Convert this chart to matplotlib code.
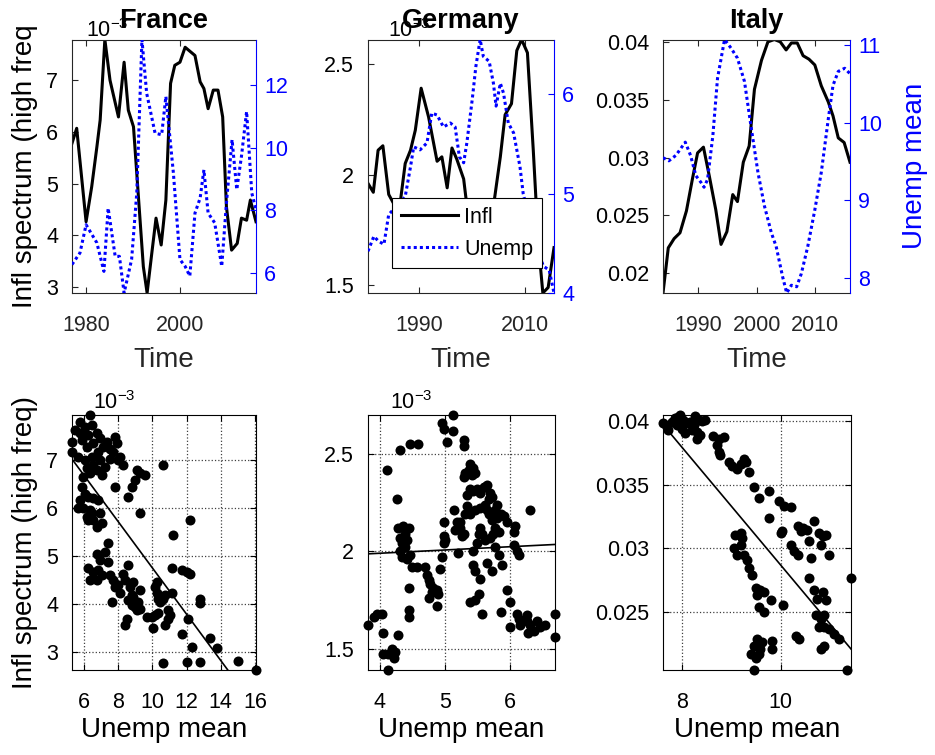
import matplotlib.pyplot as plt
import numpy as np

plt.rcParams['font.family'] = 'Liberation Sans'
plt.rcParams['mathtext.fontset'] = 'custom'
plt.rcParams['mathtext.rm'] = 'Liberation Sans'
plt.rcParams['mathtext.it'] = 'Liberation Sans:italic'
plt.rcParams['xtick.direction'] = 'in'
plt.rcParams['ytick.direction'] = 'in'
plt.rcParams['xtick.major.pad'] = 16
plt.rcParams['ytick.major.pad'] = 10
plt.rcParams['xtick.major.size'] = 4
plt.rcParams['ytick.major.size'] = 4

countries = ['France', 'Germany', 'Italy']

## TIME SERIES (inflation spectrum for France/Germany in units of 1e-3)
fr_t_infl = [1977.0, 1978.0, 1980.0, 1981.2, 1982.3, 1983.0, 1984.0, 1985.1, 1986.9, 1988.1,
             1989.0, 1990.1, 1991.1, 1992.2, 1993.0, 1994.0, 1994.9, 1996.0, 1997.0, 1998.0,
             1998.9, 2000.0, 2001.1, 2003.2, 2004.3, 2005.1, 2006.0, 2007.1, 2008.1, 2009.1,
             2009.9, 2011.0, 2012.2, 2013.1, 2014.2, 2015.0, 2016.2]
fr_infl = [5.78, 6.07, 4.26, 4.94, 5.71, 6.23, 7.79, 7.00, 6.29, 7.35,
           6.42, 6.10, 4.81, 3.39, 2.88, 3.65, 4.33, 3.81, 4.68, 6.94,
           7.29, 7.35, 7.64, 7.48, 6.97, 6.84, 6.45, 6.81, 6.81, 6.29,
           4.55, 3.71, 3.84, 4.33, 4.29, 4.68, 4.26]
fr_t_unemp = [1977.0, 1978.7, 1980.0, 1982.3, 1983.8, 1984.7, 1986.2, 1987.1, 1988.1, 1989.7,
              1990.8, 1991.9, 1992.9, 1994.7, 1996.1, 1997.0, 1998.6, 2000.0, 2001.1, 2002.1,
              2003.2, 2004.3, 2005.1, 2006.0, 2007.4, 2008.9, 2009.9, 2011.1, 2012.1, 2013.1,
              2014.2, 2015.3, 2016.2]
fr_unemp = [6.27, 6.64, 7.54, 6.96, 6.05, 8.07, 6.53, 6.53, 5.36, 6.43,
            8.55, 13.45, 11.74, 10.46, 10.41, 11.63, 9.19, 6.43, 6.21, 5.90,
            7.91, 8.39, 9.29, 7.91, 7.60, 6.21, 8.23, 10.25, 8.66, 9.72,
            11.15, 8.55, 8.02]

de_t_infl = [1980.4, 1981.4, 1982.3, 1983.2, 1984.3, 1985.2, 1985.8, 1986.5, 1987.4, 1988.4,
             1989.3, 1990.4, 1991.8, 1993.4, 1994.3, 1995.3, 1996.2, 1997.1, 1998.4, 1998.8,
             2000.0, 2001.5, 2003.0, 2004.2, 2005.3, 2006.2, 2007.4, 2008.4, 2009.3, 2010.4,
             2011.5, 2012.0, 2012.6, 2013.3, 2014.3, 2015.4]
de_infl = [1.96, 1.92, 2.11, 2.13, 1.91, 1.87, 1.78, 1.88, 2.05, 2.11,
           2.20, 2.39, 2.26, 2.06, 2.08, 1.94, 2.12, 2.07, 1.98, 1.90,
           1.70, 1.58, 1.65, 1.89, 2.08, 2.27, 2.32, 2.56, 2.61, 2.55,
           2.11, 1.89, 1.65, 1.465, 1.49, 1.67]
de_t_unemp = [1980.4, 1981.5, 1982.4, 1983.4, 1984.3, 1985.2, 1986.3, 1987.4, 1988.4, 1989.0,
              1990.2, 1991.5, 1992.4, 1993.4, 1994.6, 1995.9, 1996.8, 1997.6, 1998.4, 1999.0,
              2000.0, 2000.7, 2001.5, 2002.1, 2003.2, 2004.0, 2004.5, 2005.3, 2005.9, 2006.8,
              2007.8, 2009.0, 2009.6, 2011.0, 2012.2, 2013.4, 2014.5, 2015.4]
de_unemp = [4.42, 4.57, 4.52, 4.49, 4.79, 4.84, 4.90, 4.97, 5.27, 5.47,
            5.44, 5.51, 5.81, 5.79, 5.67, 5.71, 5.67, 5.37, 5.31, 5.51,
            5.94, 6.28, 6.55, 6.38, 6.33, 6.11, 5.88, 6.11, 6.01, 5.71,
            5.61, 5.27, 5.00, 4.70, 4.45, 4.27, 4.23, 4.00]

it_t_infl = [1984.0, 1984.9, 1985.9, 1986.9, 1988.0, 1989.0, 1989.9, 1990.9, 1991.9, 1993.0,
             1993.9, 1994.9, 1995.9, 1996.7, 1997.7, 1998.7, 1999.6, 2000.8, 2001.9, 2003.0,
             2004.0, 2005.0, 2005.9, 2006.9, 2007.9, 2008.9, 2009.9, 2011.0, 2012.2, 2013.0,
             2013.9, 2014.9, 2015.9]
it_infl = [0.0183, 0.0222, 0.0230, 0.0235, 0.0254, 0.0281, 0.0304, 0.0309, 0.0284, 0.0255,
           0.0225, 0.0236, 0.0268, 0.0262, 0.0296, 0.0310, 0.0359, 0.0384, 0.0400, 0.0402,
           0.0400, 0.0393, 0.0399, 0.0399, 0.0388, 0.0385, 0.0380, 0.0362, 0.0348, 0.0336,
           0.0317, 0.0313, 0.0296]
it_t_unemp = [1984.0, 1985.0, 1986.2, 1987.8, 1988.7, 1989.6, 1990.5, 1991.0, 1991.6, 1992.5,
              1993.3, 1994.5, 1995.6, 1996.7, 1997.9, 1999.0, 2000.2, 2001.3, 2002.5, 2003.3,
              2004.4, 2005.1, 2005.9, 2006.8, 2007.6, 2008.7, 2009.9, 2011.0, 2012.2, 2013.0,
              2013.9, 2015.0, 2015.9]
it_unemp = [9.55, 9.51, 9.58, 9.75, 9.58, 9.32, 9.23, 9.17, 9.27, 9.83,
            10.57, 11.07, 10.96, 10.83, 10.53, 9.96, 9.36, 8.93, 8.58, 8.41,
            8.02, 7.81, 7.91, 7.89, 8.06, 8.41, 8.88, 9.36, 10.05, 10.48,
            10.66, 10.70, 10.63]

## SCATTER: unemp mean vs infl spectrum
fr_sc_unemp = [6.35, 5.77, 6.06, 5.47, 6.25, 5.86, 5.30, 6.55, 6.94, 6.74, 6.45, 5.77, 6.16, 5.30,
               5.67, 6.06, 6.45, 6.84, 7.13, 7.33, 7.52, 6.94, 6.55, 6.16, 5.96, 6.35, 6.74, 7.03,
               7.23, 7.52, 7.81, 7.91, 7.72, 8.01, 8.11, 8.30, 7.81, 8.59, 8.79, 8.98, 9.08, 9.27,
               9.57, 9.27, 10.64, 5.86, 6.06, 5.77, 6.25, 6.55, 6.84, 5.96, 6.35, 5.67, 6.16, 6.55,
               6.74, 6.94, 7.03, 6.25, 6.45, 7.42, 7.23, 6.74, 7.42, 6.94, 6.25, 6.55, 6.84, 7.03,
               6.35, 6.74, 7.52, 7.72, 7.81, 8.01, 8.11, 7.62, 8.30, 8.59, 8.40, 8.69, 8.88, 8.79,
               8.59, 8.79, 8.98, 9.18, 9.27, 9.08, 8.50, 8.40, 8.88, 9.27, 9.66, 9.96, 10.15, 10.35,
               10.05, 10.25, 10.15, 10.25, 10.35, 10.44, 10.64, 10.74, 10.93, 10.93, 11.03, 10.74,
               10.64, 11.22, 11.13, 11.13, 11.71, 12.00, 12.20, 12.20, 11.71, 12.10, 12.00, 12.30,
               12.78, 12.78, 12.78, 13.37, 13.76, 15.03, 16.06]
fr_sc_infl = [7.94, 7.80, 7.70, 7.63, 7.52, 7.42, 7.38, 7.35, 7.45, 7.56, 7.73, 7.56, 7.28, 7.17,
              7.07, 7.00, 7.07, 7.17, 7.28, 7.38, 7.24, 7.00, 6.90, 6.83, 6.65, 6.72, 6.79, 6.69,
              6.86, 7.03, 7.49, 7.35, 7.17, 7.00, 7.07, 6.90, 6.44, 6.23, 6.44, 6.58, 6.79, 6.72,
              6.69, 5.89, 6.90, 6.44, 6.30, 6.16, 6.23, 6.20, 6.16, 5.99, 5.96, 5.99, 5.82, 5.75,
              5.61, 5.89, 5.68, 5.75, 5.89, 5.26, 5.09, 5.05, 4.88, 4.91, 4.74, 4.67, 4.70, 4.60,
              4.49, 4.49, 4.60, 4.49, 4.36, 4.39, 4.22, 4.04, 4.63, 4.81, 4.49, 4.36, 4.46, 4.18,
              4.08, 3.97, 3.94, 4.04, 3.90, 3.87, 3.69, 3.56, 4.15, 4.29, 3.73, 3.73, 3.76, 3.80,
              3.49, 4.22, 4.36, 4.46, 4.11, 4.04, 4.11, 4.18, 3.87, 3.69, 3.76, 3.56,
              2.76, 5.43, 4.74, 4.22, 4.70, 4.67, 4.63, 5.75, 3.38, 3.69, 2.79, 3.10,
              2.79, 4.11, 4.01, 3.28, 3.07, 2.81, 2.62]

de_sc_unemp = [5.13, 4.95, 4.99, 5.13, 5.04, 5.29, 5.29, 4.59, 4.46, 4.31, 4.11, 4.26, 4.28, 4.36,
               4.44, 4.39, 4.41, 4.31, 4.34, 4.39, 4.31, 4.34, 4.41, 4.46, 4.49, 4.57, 4.70, 4.72,
               4.75, 4.77, 4.82, 4.88, 4.80, 4.90, 4.75, 4.88, 4.93, 4.95, 4.98, 4.99, 5.01, 4.98,
               5.14, 5.16, 5.19, 5.24, 5.26, 5.21, 5.29, 5.31, 5.34, 5.39, 5.47, 5.55, 5.34, 5.39,
               5.44, 5.49, 5.55, 5.29, 5.31, 5.37, 5.39, 5.44, 5.42, 5.47, 5.60, 5.62, 5.65, 5.70,
               5.73, 5.68, 5.62, 5.65, 5.68, 5.73, 5.75, 5.78, 5.80, 5.86, 5.91, 5.96, 5.78, 5.83,
               5.75, 5.70, 5.62, 5.57, 5.55, 5.52, 5.49, 5.44, 5.44, 5.47, 5.55, 5.65, 5.73, 5.78,
               5.83, 5.88, 5.86, 5.57, 5.39, 5.52, 5.47, 6.06, 6.11, 6.14, 6.06, 6.09, 5.96, 6.01,
               6.01, 6.11, 6.14, 6.16, 6.27, 6.32, 6.42, 6.47, 6.55, 6.70, 6.70, 6.27, 6.29, 6.37,
               6.32, 3.815, 3.90, 3.95, 4.03, 4.05, 4.04, 4.13, 4.18, 4.23, 4.28, 4.13, 4.21, 4.44,
               4.44, 4.44, 5.80, 5.24]
de_sc_infl = [2.70, 2.66, 2.63, 2.62, 2.56, 2.57, 2.54, 2.55, 2.55, 2.52, 2.42, 2.27, 2.12, 2.13,
              2.12, 2.09, 2.06, 2.07, 2.04, 2.02, 2.00, 1.97, 1.96, 1.98, 1.92, 1.92, 1.92, 1.88,
              1.85, 1.83, 1.81, 1.80, 1.79, 1.78, 1.76, 1.72, 1.91, 1.97, 2.15, 2.08, 2.06, 2.04,
              2.21, 2.11, 2.15, 2.12, 2.08, 1.99, 2.09, 2.19, 2.23, 2.19, 2.21, 2.22, 2.29, 2.32,
              2.31, 2.32, 2.30, 2.38, 2.40, 2.42, 2.45, 2.43, 2.39, 2.40, 2.33, 2.33, 2.34, 2.30,
              2.28, 2.27, 2.24, 2.21, 2.19, 2.16, 2.18, 2.21, 2.24, 2.19, 2.18, 2.15, 2.12, 2.10,
              2.09, 2.07, 2.06, 2.09, 2.12, 2.09, 2.04, 2.00, 1.93, 1.90, 1.86, 1.94, 1.90, 2.02,
              1.98, 1.93, 1.69, 1.68, 1.74, 1.78, 1.75, 2.03, 2.00, 1.98, 2.10, 2.13, 1.80, 1.61,
              1.74, 1.68, 1.65, 1.62, 1.64, 1.62, 1.64, 1.61, 1.62, 1.68, 1.56, 1.67, 1.58, 1.59,
              2.21, 1.62, 1.66, 1.68, 1.68, 1.58, 1.47, 1.47, 1.50, 1.48, 1.57, 1.39, 1.45, 1.81,
              1.70, 1.66, 2.17, 2.15]

it_sc_unemp = [7.62, 7.70, 7.73, 7.80, 7.86, 7.93, 7.97, 7.90, 8.00, 8.07, 8.10, 8.03, 8.17, 8.27,
               8.24, 8.34, 8.41, 8.47, 8.30, 8.37, 8.30, 8.20, 8.64, 8.75, 8.85, 8.71, 8.75, 8.78,
               8.95, 9.02, 9.12, 9.19, 9.25, 9.29, 9.36, 9.46, 9.56, 9.76, 9.76, 9.96, 10.07, 10.20,
               10.03, 10.00, 10.34, 10.44, 10.54, 10.68, 10.78, 10.85, 10.81, 10.91, 10.98, 10.20,
               10.27, 10.34, 10.57, 10.61, 9.08, 9.19, 9.22, 9.05, 9.12, 9.19, 9.25, 9.32, 9.36,
               9.42, 9.49, 9.52, 9.59, 9.66, 9.56, 9.66, 9.80, 10.05, 9.39, 9.46, 9.52, 9.59, 9.56,
               9.49, 9.63, 9.83, 9.83, 10.30, 10.37, 10.57, 10.68, 10.74, 10.85, 10.91, 10.71,
               10.81, 10.88, 10.78, 10.88, 10.98, 11.08, 11.18, 10.81, 10.88, 9.46, 11.33, 11.42,
               10.41]
it_sc_infl = [0.03984, 0.03952, 0.03926, 0.03992, 0.04018, 0.04032, 0.04045, 0.03966, 0.03939,
              0.03900, 0.03979, 0.04005, 0.03992, 0.04037, 0.03966, 0.04005, 0.04000, 0.04005,
              0.03913, 0.03886, 0.03860, 0.03926, 0.03879, 0.03860, 0.03873, 0.03807, 0.03754,
              0.03728, 0.03675, 0.03649, 0.03622, 0.03662, 0.03702, 0.03675, 0.03596, 0.03477,
              0.03398, 0.03451, 0.03239, 0.03371, 0.03332, 0.03324, 0.03134, 0.03121, 0.03173,
              0.03160, 0.03147, 0.03213, 0.03121, 0.03094, 0.03028, 0.03107, 0.02949, 0.03028,
              0.02975, 0.02949, 0.03055, 0.02923, 0.03107, 0.03121, 0.03081, 0.03002, 0.02949,
              0.03028, 0.02949, 0.02909, 0.02843, 0.02790, 0.02685, 0.02632, 0.02672, 0.02658,
              0.02540, 0.02500, 0.02592, 0.02553, 0.02170, 0.02236, 0.02289, 0.02210, 0.02170,
              0.02143, 0.02262, 0.02276, 0.02210, 0.02315, 0.02289, 0.02764, 0.02672, 0.02606,
              0.02658, 0.02592, 0.02474, 0.02447, 0.02474, 0.02381, 0.02381, 0.02368, 0.02328,
              0.02289, 0.02210, 0.02236, 0.02046, 0.02046, 0.02769, 0.03134]

# least squares lines (slope, intercept)
fits = [(-0.483, 9.58), (0.0167, 1.923), (-0.004628, 0.07496)]

t_infl = [fr_t_infl, de_t_infl, it_t_infl]
infl = [fr_infl, de_infl, it_infl]
t_unemp = [fr_t_unemp, de_t_unemp, it_t_unemp]
unemp = [fr_unemp, de_unemp, it_unemp]
sc_x = [fr_sc_unemp, de_sc_unemp, it_sc_unemp]
sc_y = [fr_sc_infl, de_sc_infl, it_sc_infl]

xticks_top = [[1980, 2000], [1990, 2010], [1990, 2000, 2010]]
yticks_top = [[3, 4, 5, 6, 7], [1.5, 2, 2.5], [0.02, 0.025, 0.03, 0.035, 0.04]]
yticks_right = [[6, 8, 10, 12], [4, 5, 6], [8, 9, 10, 11]]
xticks_bot = [[6, 8, 10, 12, 14, 16], [4, 5, 6], [8, 10]]
yticks_bot = [[3, 4, 5, 6, 7], [1.5, 2, 2.5], [0.025, 0.03, 0.035, 0.04]]
exp_x = [0.075, 0.11]

W, H = 935, 755
lefts = [72, 368, 663]
widths = [184, 186, 187]
FS = 15.5
LFS = 20
ink = '0.15'

fig = plt.figure(figsize=(W / 100, H / 100), dpi=100)

for i in range(3):
    ## TOP ROW: time series, two y axes
    ax = fig.add_axes([lefts[i] / W, (H - 293) / H, widths[i] / W, 253.5 / H])
    ax2 = ax.twinx()
    l1, = ax.plot(t_infl[i], infl[i], color='k', lw=2.2, label='Infl')
    l2, = ax2.plot(t_unemp[i], unemp[i], color='b', lw=2.2, ls=(0, (1, 1)), label='Unemp')
    ax.set_xlim(min(t_infl[i]), max(t_infl[i]))
    ax.set_ylim(min(infl[i]), max(infl[i]))
    ax2.set_ylim(min(unemp[i]), max(unemp[i]))
    ax.set_xticks(xticks_top[i])
    ax.set_yticks(yticks_top[i], labels=[f'{v:g}' for v in yticks_top[i]])
    ax2.set_yticks(yticks_right[i])
    ax.xaxis.set_tick_params(which='major', top=True, labelsize=FS, pad=16,
                             color=ink, labelcolor=ink)
    ax.yaxis.set_tick_params(which='major', labelsize=FS, pad=10, color=ink)
    ax2.yaxis.set_tick_params(which='major', labelsize=FS, pad=6, colors='b')
    for s in ['left', 'top', 'bottom']:
        ax.spines[s].set_color(ink)
        ax2.spines[s].set_visible(False)
    ax.spines['right'].set_visible(False)
    ax2.spines['right'].set_color('b')
    ax.set_title(countries[i], fontsize=19.5, fontweight='bold', pad=8.5)
    ax.set_xlabel('Time', fontsize=LFS, color=ink)
    ax.xaxis.set_label_coords(0.5, -0.29)
    ax.xaxis.label.set_va('baseline')
    if i < 2:
        ax.text(exp_x[i], 1.008, r'10$^{-3}$', transform=ax.transAxes, fontsize=FS,
                ha='left', va='baseline', zorder=1)
    if i == 0:
        ax.set_ylabel('Infl spectrum (high freq', fontsize=LFS)
        ax.yaxis.set_label_coords(-0.255, 0.5)
        ax.yaxis.label.set_va('center')
    if i == 1:
        leg = ax2.legend([l1, l2], ['Infl', 'Unemp'], loc='lower left',
                         bbox_to_anchor=(0.129, 0.098), borderaxespad=0, fontsize=FS,
                         frameon=True, fancybox=False, framealpha=1, edgecolor='k',
                         handlelength=2.65, borderpad=0.4, labelspacing=0.5,
                         handletextpad=0.3)
        leg.get_frame().set_linewidth(0.8)
    if i == 2:
        ax2.set_ylabel('Unemp mean', fontsize=LFS, color='b')
        ax2.yaxis.set_label_coords(1.348, 0.5)
        ax2.yaxis.label.set_va('center')

    ## BOTTOM ROW: scatter with fitted line
    bx = fig.add_axes([lefts[i] / W, (H - 670) / H, (widths[i] + (1 if i else 0)) / W, 255 / H])
    x = np.array(sc_x[i])
    y = np.array(sc_y[i])
    bx.scatter(x, y, s=52, c='k', linewidths=0, clip_on=False, zorder=3)
    xx = np.array([x.min(), x.max()])
    bx.plot(xx, fits[i][0] * xx + fits[i][1], color='k', lw=1.2, zorder=2)
    bx.set_xlim(x.min(), x.max())
    bx.set_ylim(y.min(), y.max())
    bx.set_xticks(xticks_bot[i])
    bx.set_yticks(yticks_bot[i], labels=[f'{v:g}' for v in yticks_bot[i]])
    bx.grid(True, color='0.25', ls=':', lw=0.9)
    bx.xaxis.set_tick_params(which='major', top=True, labelsize=FS, pad=16)
    bx.yaxis.set_tick_params(which='major', right=True, labelsize=FS, pad=10)
    for s in bx.spines.values():
        s.set_color('k')
        s.set_linewidth(0.8)
    bx.set_xlabel('Unemp mean', fontsize=LFS)
    bx.xaxis.set_label_coords(0.5, -0.262)
    bx.xaxis.label.set_va('baseline')
    if i < 2:
        bx.text(0.115, 1.022, r'10$^{-3}$', transform=bx.transAxes, fontsize=FS,
                ha='left', va='baseline')
    if i == 0:
        bx.set_ylabel('Infl spectrum (high freq)', fontsize=LFS)
        bx.yaxis.set_label_coords(-0.253, 0.5)
        bx.yaxis.label.set_va('center')

fig.savefig('out.png', dpi=100)
